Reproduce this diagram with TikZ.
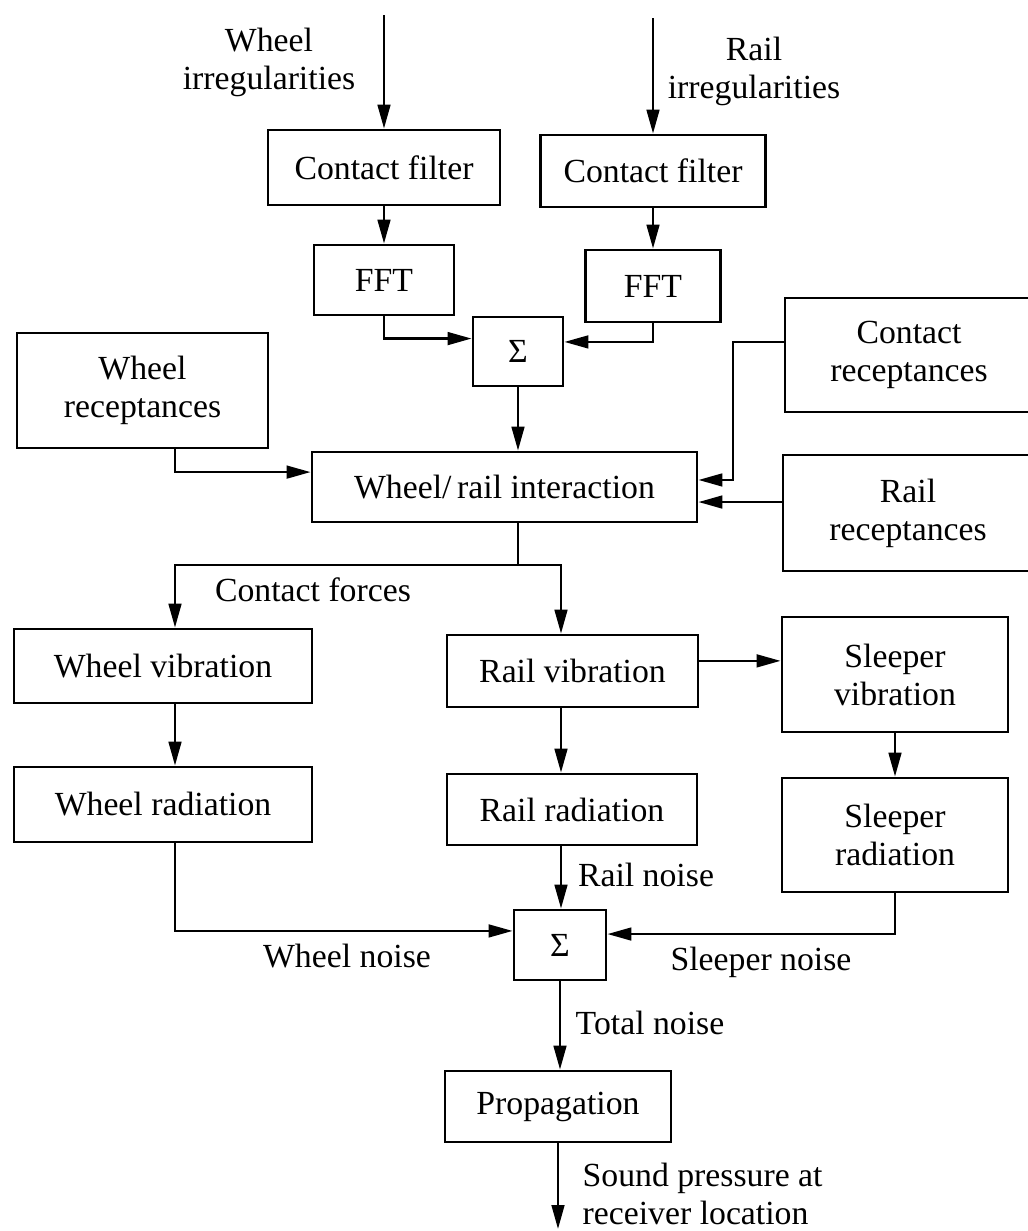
\documentclass[tikz,border=0pt]{standalone}
\usepackage{fontspec}
\setmainfont{Liberation Serif}
\usetikzlibrary{arrows.meta, calc}

\begin{document}
\begin{tikzpicture}[x=0.0125cm, y=-0.0125cm, line width=0.9pt,
    every node/.style={font=\fontsize{12}{13.5}\selectfont},
    box/.style={draw, line width=1pt, rectangle, align=center, inner sep=0pt},
    sz/.style n args={2}{minimum width=#1*0.0125cm, minimum height=#2*0.0125cm},
    arr/.style={-{Triangle[length=8.5pt,width=4.5pt]}},
    lbl/.style={align=center}]
    \useasboundingbox (0,0) rectangle (1028,1231);

    % Columns used by the connectors
    \coordinate (colA) at (175,0);
    \coordinate (colC) at (518,0);
    \coordinate (colD) at (561,0);
    \coordinate (colF) at (733,400);
    \coordinate (split) at (518,565);

    % Inputs
    \coordinate (inW) at (384,15);
    \coordinate (inR) at (653,18);
    \node[lbl] (irrW) at (269,62) {Wheel\\irregularities};
    \node[lbl] (irrR) at (754,71) {Rail\\irregularities};

    \node[box, sz={232}{75}] (cfL) at (384,167.5) {Contact filter};
    \node[box, sz={225}{72}] (cfR) at (653,171) {Contact filter};
    \node[box, sz={140}{70}] (fftL) at (384,280) {FFT};
    \node[box, sz={135}{72}] (fftR) at (653,286) {FFT};
    \node[box, sz={90}{69}] (sumT) at (518,351.5) {\large Σ};

    % Receptances and interaction
    \node[box, sz={251}{115}] (wrec) at (142.5,390.5) {Wheel\\receptances};
    \node[box, sz={248}{114}] (crec) at (909,355) {Contact\\receptances};
    \node[box, sz={250}{116}] (rrec) at (908,513) {Rail\\receptances};
    \node[box, sz={385}{70}] (inter) at (504.5,487) {Wheel/\,rail interaction};

    % Vibration and radiation
    \node[box, sz={298}{74}] (wvib) at (163,666) {Wheel vibration};
    \node[box, sz={251}{72}] (rvib) at (572.5,671) {Rail vibration};
    \node[box, sz={226}{115}] (svib) at (895,674.5) {Sleeper\\vibration};
    \node[box, sz={298}{75}] (wrad) at (163,804.5) {Wheel radiation};
    \node[box, sz={250}{71}] (rrad) at (572,809.5) {Rail radiation};
    \node[box, sz={226}{114}] (srad) at (895,835) {Sleeper\\radiation};

    % Summation and propagation
    \node[box, sz={92}{70}] (sumB) at (560,945) {\large Σ};
    \node[box, sz={226}{71}] (prop) at (558,1106.5) {Propagation};
    \coordinate (outP) at (558,1229);

    % Connectors
    \draw[arr] (inW) -- (cfL.north);
    \draw[arr] (inR) -- (cfR.north);
    \draw[arr] (cfL.south) -- (fftL.north);
    \draw[arr] (cfR.south) -- (fftR.north);
    \draw[arr] (fftL.south) |- ([yshift=4.6pt]sumT.west);
    \draw[arr] (fftR.south) |- ([yshift=3.4pt]sumT.east);
    \draw[arr] (sumT.south) -- (sumT.south |- inter.north);
    \draw[arr] (colA |- wrec.south) |- ([yshift=5.3pt]inter.west);
    \draw[arr] ([yshift=4.6pt]crec.west) -| (colF) |- ([yshift=2.5pt]inter.east);
    \draw[arr] ([yshift=3.9pt]rrec.west) -- ([yshift=3.9pt]rrec.west -| inter.east);

    \draw (colC |- inter.south) -- (split);
    \draw[arr] (split) -| (colA |- wvib.north);
    \draw[arr] (split) -| (colD |- rvib.north);
    \node (cforce) at (313,590) {Contact forces};

    \draw[arr] (colA |- wvib.south) -- (colA |- wrad.north);
    \draw[arr] (colD |- rvib.south) -- (colD |- rrad.north);
    \draw[arr] ([yshift=3.6pt]rvib.east) -- ([yshift=3.6pt]rvib.east -| svib.west);
    \draw[arr] (svib.south) -- (svib.south |- srad.north);

    \draw[arr] (colA |- wrad.south) |- ([yshift=5pt]sumB.west);
    \draw[arr] (colD |- rrad.south) -- (colD |- sumB.north);
    \draw[arr] (srad.south) |- ([yshift=3.9pt]sumB.east);
    \node (nW) at (347,956) {Wheel noise};
    \node (nR) at (646,875) {Rail noise};
    \node (nS) at (761,962) {Sleeper noise};

    \draw[arr] (sumB.south) -- (sumB.south |- prop.north);
    \node (nT) at (650,1023) {Total noise};
    \draw[arr] (prop.south) -- (outP);
    \node[align=left, anchor=west] (spl) at (572,1194) {Sound pressure at\\ receiver location};
\end{tikzpicture}
\end{document}
